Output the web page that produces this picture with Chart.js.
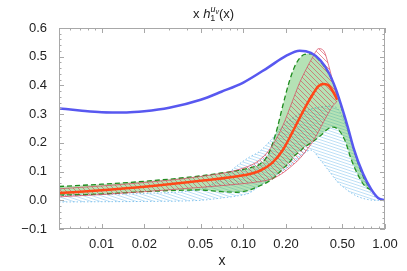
<!DOCTYPE html>
<html>
<head>
<meta charset="utf-8">
<script src="https://cdn.jsdelivr.net/npm/chart.js@4.4.0/dist/chart.umd.min.js"></script>
<style>
  body { margin: 0; background: #fff; }
  #wrap { position: relative; width: 407px; height: 271px; }
  #ttl { position: absolute; top: 6px; left: 193px; font: 13px "Liberation Sans", Arial, sans-serif; color: #222; white-space: nowrap; }
  #ttl .lo { font-size: 9px; position: relative; top: 3px; }
  #ttl .hi { font-size: 9px; position: relative; top: -6px; margin-left: -5px; }
  #ttl .hv { font-size: 7px; position: relative; top: 2px; }
</style>
</head>
<body>
<div id="wrap">
  <canvas id="c" width="407" height="271"></canvas>
  <div id="ttl">x <i>h</i><span class="lo">1</span><span class="hi"><i>u</i><span class="hv"><i>v</i></span></span>(x)</div>
</div>
<script>
// blue curve
const blueX = [0.005, 0.007, 0.01, 0.015, 0.02, 0.03, 0.05, 0.07, 0.1, 0.15, 0.2, 0.25, 0.3, 0.35, 0.4, 0.45, 0.5, 0.55, 0.6, 0.7, 0.8, 0.9, 1.0];
const blueY = [0.32, 0.313, 0.307, 0.306, 0.31, 0.322, 0.35, 0.378, 0.41, 0.463, 0.503, 0.521, 0.513, 0.487, 0.445, 0.387, 0.318, 0.25, 0.182, 0.092, 0.038, 0.007, 0];

// red band (central line + hatched band)
const redX   = [0.005, 0.01, 0.02, 0.05, 0.1, 0.13, 0.16, 0.19, 0.22, 0.25, 0.28, 0.31, 0.34, 0.37, 0.4, 0.43, 0.46];
const redMid = [0.025, 0.035, 0.047, 0.068, 0.087, 0.102, 0.13, 0.175, 0.233, 0.287, 0.333, 0.37, 0.398, 0.405, 0.4, 0.378, 0.35];
const redUp  = [0.04, 0.05, 0.062, 0.083, 0.112, 0.14, 0.19, 0.26, 0.34, 0.41, 0.46, 0.5, 0.528, 0.52, 0.47, 0.41, 0.355];
const redLow = [0.012, 0.02, 0.03, 0.045, 0.058, 0.065, 0.075, 0.095, 0.12, 0.145, 0.175, 0.205, 0.24, 0.275, 0.305, 0.33, 0.345];

// green band
const greenX   = [0.005, 0.01, 0.02, 0.05, 0.07, 0.09, 0.11, 0.13, 0.15, 0.17, 0.19, 0.21, 0.23, 0.25, 0.27, 0.3, 0.35, 0.4, 0.43, 0.47, 0.52, 0.58, 0.65, 0.72, 0.8];
const greenUp  = [0.048, 0.056, 0.066, 0.085, 0.095, 0.103, 0.112, 0.125, 0.16, 0.235, 0.33, 0.41, 0.465, 0.495, 0.508, 0.51, 0.483, 0.442, 0.41, 0.355, 0.285, 0.205, 0.125, 0.072, 0.036];
const greenLow = [0.018, 0.022, 0.03, 0.036, 0.03, 0.028, 0.035, 0.05, 0.065, 0.085, 0.11, 0.13, 0.155, 0.17, 0.185, 0.2, 0.225, 0.25, 0.255, 0.245, 0.21, 0.14, 0.085, 0.05, 0.036];

// light blue band
const lbX   = [0.005, 0.01, 0.02, 0.05, 0.07, 0.09, 0.11, 0.13, 0.16, 0.2, 0.25, 0.3, 0.35, 0.42, 0.47, 0.52, 0.58, 0.65, 0.75, 0.85, 0.95];
const lbUp  = [0.018, 0.02, 0.024, 0.04, 0.075, 0.12, 0.15, 0.17, 0.215, 0.27, 0.3, 0.318, 0.325, 0.328, 0.315, 0.27, 0.2, 0.125, 0.05, 0.012, 0];
const lbLow = [-0.006, -0.005, -0.004, 0, 0.008, 0.015, 0.025, 0.05, 0.08, 0.11, 0.15, 0.175, 0.14, 0.09, 0.06, 0.042, 0.025, 0.012, 0.003, 0, 0];

// axis ticks
const xTicks = [0.01, 0.02, 0.05, 0.1, 0.2, 0.5, 1.0];
const xMinor = [0.006, 0.007, 0.008, 0.009, 0.03, 0.04, 0.06, 0.07, 0.08, 0.09, 0.3, 0.4, 0.6, 0.7, 0.8, 0.9];

function pts(xs, ys) {
    return xs.map(function(x, i) { return { x: x, y: ys[i] }; });
}

const canvas = document.getElementById('c');
const ctx = canvas.getContext('2d');

// hatch pattern: lines going down to the right
function hatch(w, h, color, lw) {
    const c = document.createElement('canvas');
    c.width = w; c.height = h;
    const g = c.getContext('2d');
    g.strokeStyle = color;
    g.lineWidth = lw;
    for (let k = -1; k <= 1; k++) {
        g.beginPath();
        g.moveTo(0, k * h);
        g.lineTo(w, k * h + h);
        g.stroke();
    }
    return ctx.createPattern(c, 'repeat');
}

const redPat = hatch(5, 5, 'rgba(215,45,65,0.65)', 0.8);
const lbPat = hatch(9, 3, 'rgba(110,185,235,0.65)', 0.7);

Chart.defaults.font.family = '"Liberation Sans", Arial, sans-serif';
Chart.defaults.color = '#222';

// frame with inward ticks
const frame = {
    id: 'frame',
    afterDatasetsDraw(chart) {
        const a = chart.chartArea;
        const x = chart.scales.x, y = chart.scales.y;
        const c = chart.ctx;
        c.save();
        c.strokeStyle = '#a8a8a8';
        c.lineWidth = 1;
        c.strokeRect(Math.round(a.left) + 0.5, Math.round(a.top) + 0.5, Math.round(a.right - a.left) - 1, Math.round(a.bottom - a.top) - 1);
        c.beginPath();
        function xt(v, len) {
            const p = Math.round(x.getPixelForValue(v)) + 0.5;
            c.moveTo(p, a.bottom); c.lineTo(p, a.bottom - len);
            c.moveTo(p, a.top); c.lineTo(p, a.top + len);
        }
        function yt(v, len) {
            const p = Math.round(y.getPixelForValue(v)) + 0.5;
            c.moveTo(a.left, p); c.lineTo(a.left + len, p);
            c.moveTo(a.right, p); c.lineTo(a.right - len, p);
        }
        xTicks.forEach(function(v) { xt(v, 5); });
        xMinor.forEach(function(v) { xt(v, 2.5); });
        for (let i = 0; i <= 35; i++) {
            const v = -0.1 + i * 0.02;
            yt(v, i % 5 === 0 ? 5 : 2.5);
        }
        c.stroke();
        c.restore();
    }
};

const bandLine = { pointRadius: 0, cubicInterpolationMode: 'monotone' };

new Chart(ctx, {
    type: 'line',
    data: {
        datasets: [
            Object.assign({ label: 'blue', data: pts(blueX, blueY), borderColor: '#5858f0', borderWidth: 2.5, fill: false, order: 0 }, bandLine),
            Object.assign({ label: 'red', data: pts(redX, redMid), borderColor: '#ff4818', borderWidth: 2.5, fill: false, order: 1 }, bandLine),
            Object.assign({ label: 'red upper', data: pts(redX, redUp), borderColor: 'rgba(215,70,95,0.9)', borderWidth: 0.8, fill: { target: 3 }, backgroundColor: redPat, order: 2 }, bandLine),
            Object.assign({ label: 'red lower', data: pts(redX, redLow), borderColor: 'rgba(215,70,95,0.9)', borderWidth: 0.8, fill: false, order: 3 }, bandLine),
            Object.assign({ label: 'green upper', data: pts(greenX, greenUp), borderColor: '#1e8c1e', borderWidth: 1.3, borderDash: [5, 3], fill: { target: 5 }, backgroundColor: 'rgba(60,180,60,0.38)', order: 4 }, bandLine),
            Object.assign({ label: 'green lower', data: pts(greenX, greenLow), borderColor: '#1e8c1e', borderWidth: 1.3, borderDash: [5, 3], fill: false, order: 5 }, bandLine),
            Object.assign({ label: 'light blue upper', data: pts(lbX, lbUp), borderColor: 'rgba(120,190,235,0.9)', borderWidth: 1, borderDash: [1.5, 2], fill: { target: 7 }, backgroundColor: lbPat, order: 6 }, bandLine),
            Object.assign({ label: 'light blue lower', data: pts(lbX, lbLow), borderColor: 'rgba(120,190,235,0.9)', borderWidth: 1, borderDash: [1.5, 2], fill: false, order: 7 }, bandLine)
        ]
    },
    options: {
        responsive: false,
        animation: false,
        devicePixelRatio: 1,
        layout: { padding: { left: 0, right: 22, top: 28, bottom: 0 } },
        plugins: { legend: { display: false }, tooltip: { enabled: false } },
        scales: {
            x: {
                type: 'logarithmic',
                min: 0.005,
                max: 1,
                grid: { display: false },
                border: { display: false },
                afterBuildTicks: function(s) { s.ticks = xTicks.map(function(v) { return { value: v }; }); },
                afterFit: function(s) { s.height = 42; },
                ticks: {
                    autoSkip: false,
                    maxRotation: 0,
                    padding: 0,
                    font: { size: 13 },
                    callback: function(v) { return Number(v).toFixed(2); }
                },
                title: { display: true, text: 'x', font: { size: 14 }, padding: { top: 0, bottom: 1 } }
            },
            y: {
                min: -0.1,
                max: 0.6,
                grid: { display: false },
                border: { display: false },
                afterFit: function(s) { s.width = 59; },
                ticks: {
                    stepSize: 0.1,
                    padding: 4,
                    font: { size: 13 },
                    callback: function(v) { return (v < -1e-9 ? '\u2212' : '') + Math.abs(v).toFixed(1); }
                }
            }
        }
    },
    plugins: [frame]
});
</script>
</body>
</html>
